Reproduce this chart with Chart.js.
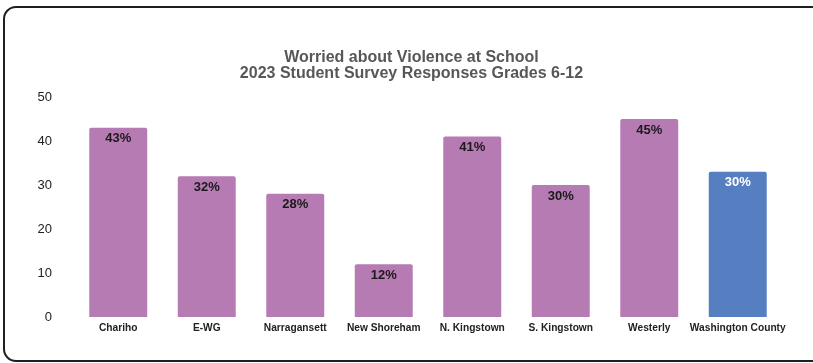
<!DOCTYPE html>
<html>
<head>
<meta charset="utf-8">
<script src="https://cdn.jsdelivr.net/npm/chart.js@4.4.1/dist/chart.umd.min.js"></script>
<style>
  html, body { margin: 0; padding: 0; background: #fff; overflow: hidden; }
  #wrap { position: relative; width: 813px; height: 363px; overflow: hidden; }
  #frame {
    position: absolute; left: 3px; top: 6px; width: 818px; height: 352px;
    border: 2px solid #1f1f1f; border-radius: 13px; pointer-events: none;
  }
  canvas { position: absolute; left: 0; top: 0; }
</style>
</head>
<body>
<div id="wrap">
  <canvas id="chart" width="813" height="363"></canvas>
  <div id="frame"></div>
</div>
<script>
// Chart data
const districts = ['Chariho', 'E-WG', 'Narragansett', 'New Shoreham', 'N. Kingstown', 'S. Kingstown', 'Westerly', 'Washington County'];
const worriedValues = [43, 32, 28, 12, 41, 30, 45, 33];
const valueLabels = ['43%', '32%', '28%', '12%', '41%', '30%', '45%', '30%'];
const yTicks = [0, 10, 20, 30, 40, 50];
const titleLines = ['Worried about Violence at School', '2023 Student Survey Responses Grades 6-12'];

const purple = '#b77bb4';
const blue = '#567fc2';
const barColors = districts.map((d, i) => i === districts.length - 1 ? blue : purple);
const labelColors = districts.map((d, i) => i === districts.length - 1 ? '#ffffff' : '#1a1a1a');

// draws the percentage text just inside the top of each bar
const barLabels = {
  id: 'barLabels',
  afterDatasetsDraw(chart) {
    const ctx = chart.ctx;
    const meta = chart.getDatasetMeta(0);
    ctx.save();
    ctx.font = 'bold 13px "Liberation Sans", Arial, sans-serif';
    ctx.textAlign = 'center';
    ctx.textBaseline = 'middle';
    meta.data.forEach((bar, i) => {
      ctx.fillStyle = labelColors[i];
      ctx.fillText(valueLabels[i], bar.x, bar.y + 11);
    });
    ctx.restore();
  }
};

new Chart(document.getElementById('chart').getContext('2d'), {
  type: 'bar',
  data: {
    labels: districts,
    datasets: [{
      data: worriedValues,
      backgroundColor: barColors,
      borderRadius: 2,
      borderSkipped: 'bottom',
      categoryPercentage: 1,
      barPercentage: 0.655
    }]
  },
  options: {
    responsive: false,
    animation: false,
    layout: { padding: { left: 10, right: 0, top: 40, bottom: 28 } },
    plugins: {
      legend: { display: false },
      tooltip: { enabled: false },
      title: {
        display: true,
        text: titleLines,
        color: '#575757',
        font: { family: '"Liberation Sans", Arial, sans-serif', size: 16, weight: 'bold', lineHeight: 1 },
        padding: { top: 10, bottom: 15 }
      }
    },
    scales: {
      x: {
        grid: { display: false, drawTicks: false },
        border: { display: false },
        ticks: {
          color: '#222',
          padding: 5,
          maxRotation: 0,
          autoSkip: false,
          font: { family: '"Liberation Sans", Arial, sans-serif', size: 10.2, weight: 'bold' }
        },
        afterFit(scale) { scale.height = 18; }
      },
      y: {
        min: yTicks[0],
        max: yTicks[yTicks.length - 1],
        grid: { display: false, drawTicks: false },
        border: { display: false },
        afterBuildTicks(scale) { scale.ticks = yTicks.map(v => ({ value: v })); },
        ticks: {
          color: '#222',
          padding: 22,
          font: { family: '"Liberation Sans", Arial, sans-serif', size: 13 }
        },
        afterFit(scale) { scale.width = 64; }
      },
      // empty right-hand axis, only reserves the right margin
      yRight: {
        position: 'right',
        min: yTicks[0],
        max: yTicks[yTicks.length - 1],
        grid: { display: false, drawTicks: false },
        border: { display: false },
        ticks: { display: false },
        afterFit(scale) { scale.width = 31; }
      }
    }
  },
  plugins: [barLabels]
});
</script>
</body>
</html>
